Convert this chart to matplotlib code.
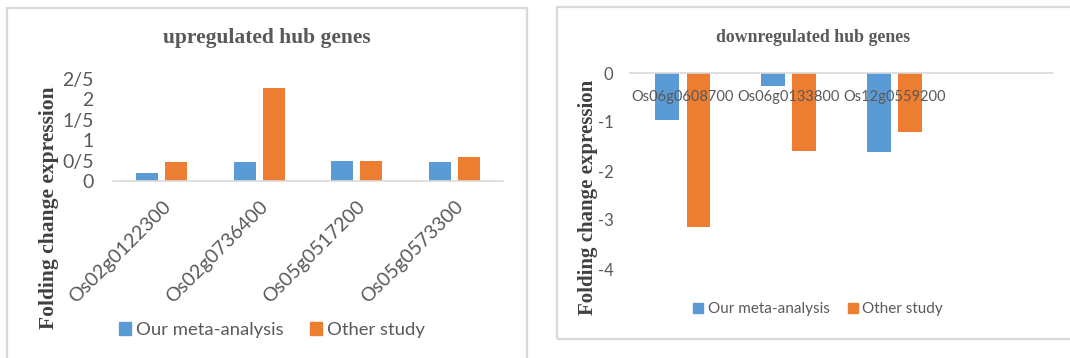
import matplotlib
matplotlib.use('Agg')
import matplotlib.pyplot as plt
from matplotlib.patches import Rectangle, Patch
import numpy as np

# ---------------- data ----------------
up_genes = ['Os02g0122300', 'Os02g0736400', 'Os05g0517200', 'Os05g0573300']
up_meta = [0.20, 0.47, 0.49, 0.47]
up_other = [0.47, 2.28, 0.49, 0.59]
up_yticks = [0, 0.5, 1, 1.5, 2, 2.5]
up_yticklabels = ['0', '0/5', '1', '1/5', '2', '2/5']

down_genes = ['Os06g0608700', 'Os06g0133800', 'Os12g0559200']
down_meta = [-0.96, -0.27, -1.62]
down_other = [-3.14, -1.59, -1.21]
down_yticks = [0, -1, -2, -3, -4]
down_yticklabels = ['0', '-1', '-2', '-3', '-4']

series_names = ['Our meta-analysis', 'Other study']
up_title = 'upregulated hub genes'
down_title = 'downregulated hub genes'
ylabel = 'Folding change expression'

# ---------------- style ----------------
BLUE = '#5B9BD5'
ORANGE = '#ED7D31'
GRAY_TXT = '#595959'
GRID = '#D9D9D9'
SANS = ['Lato', 'DejaVu Sans']
SERIF = ['Liberation Serif', 'DejaVu Serif']

W, H = 1070, 358
fig = plt.figure(figsize=(W / 100, H / 100), dpi=100)
fig.patch.set_facecolor('white')


def rect(x0, y0, x1, y1):
    return [x0 / W, 1 - y1 / H, (x1 - x0) / W, (y1 - y0) / H]


def border(x0, y0, x1, y1):
    fig.add_artist(Rectangle((x0 / W, 1 - y1 / H), (x1 - x0) / W, (y1 - y0) / H,
                             transform=fig.transFigure, fill=False,
                             edgecolor=GRID, lw=1.6))


# panel borders
border(7, 8, 527, 362)
border(557, 7, 1072, 339)

bw = 0.225
off = 0.147

# ---------------- left panel ----------------
ax1 = fig.add_axes(rect(113, 79, 503, 181))
x = np.arange(len(up_genes))
ax1.bar(x - off, up_meta, bw, color=BLUE, zorder=2)
ax1.bar(x + off, up_other, bw, color=ORANGE, zorder=2)
ax1.set_xlim(-0.5, len(up_genes) - 0.5)
ax1.set_ylim(0, 2.5)
ax1.set_yticks(up_yticks)
ax1.set_yticklabels(up_yticklabels, family=SANS, fontsize=14, color=GRAY_TXT)
ax1.set_xticks(x)
ax1.set_xticklabels(up_genes, family=SANS, fontsize=14, color=GRAY_TXT,
                    rotation=45, ha='right', rotation_mode='anchor')
ax1.tick_params(axis='both', length=0)
ax1.tick_params(axis='y', pad=14)
ax1.tick_params(axis='x', pad=12)
for s in ['top', 'right', 'left']:
    ax1.spines[s].set_visible(False)
ax1.spines['bottom'].set_color(GRID)
ax1.spines['bottom'].set_linewidth(1.2)
ax1.patch.set_alpha(0)

fig.text(267 / W, 1 - 38 / H, up_title, family=SERIF, fontweight='bold',
         fontsize=15.5, color=GRAY_TXT, ha='center', va='center')
fig.text(49 / W, 1 - 208 / H, ylabel, family=SERIF, fontweight='bold',
         fontsize=15.5, color='#404040', ha='center', va='center', rotation=90)

h = [Patch(color=BLUE), Patch(color=ORANGE)]
fig.legend(h, series_names, loc='center', bbox_to_anchor=(272 / W, 1 - 330 / H),
           ncol=2, frameon=False, prop={'family': SANS, 'size': 13.3},
           labelcolor=GRAY_TXT, handlelength=0.65, handleheight=0.65,
           handletextpad=0.3, columnspacing=1.4)

# ---------------- right panel ----------------
ax2 = fig.add_axes(rect(630, 73, 1053, 269))
n_slots = 4
x2 = np.arange(len(down_genes))
ax2.bar(x2 - off, down_meta, bw, color=BLUE, zorder=2)
ax2.bar(x2 + off, down_other, bw, color=ORANGE, zorder=2)
ax2.set_xlim(-0.5, n_slots - 0.5)
ax2.set_ylim(-4, 0)
ax2.set_yticks(down_yticks)
ax2.set_yticklabels(down_yticklabels, family=SANS, fontsize=12, color=GRAY_TXT)
ax2.set_xticks([])
ax2.tick_params(axis='both', length=0)
ax2.tick_params(axis='y', pad=12)
for s in ['bottom', 'right', 'left']:
    ax2.spines[s].set_visible(False)
ax2.spines['top'].set_color(GRID)
ax2.spines['top'].set_linewidth(1.2)
ax2.patch.set_alpha(0)
for i, g in enumerate(down_genes):
    ax2.text(i, -0.5, g, family=SANS, fontsize=10.5, color=GRAY_TXT,
             ha='center', va='center', zorder=5)

fig.text(813 / W, 1 - 37 / H, down_title, family=SERIF, fontweight='bold',
         fontsize=12.8, color=GRAY_TXT, ha='center', va='center')
fig.text(588 / W, 1 - 197 / H, ylabel, family=SERIF, fontweight='bold',
         fontsize=15, color='#404040', ha='center', va='center', rotation=90)

fig.legend(h, series_names, loc='center', bbox_to_anchor=(818 / W, 1 - 309 / H),
           ncol=2, frameon=False, prop={'family': SANS, 'size': 11},
           labelcolor=GRAY_TXT, handlelength=0.65, handleheight=0.65,
           handletextpad=0.3, columnspacing=1.2)

fig.savefig('out.png', dpi=100, facecolor='white')
